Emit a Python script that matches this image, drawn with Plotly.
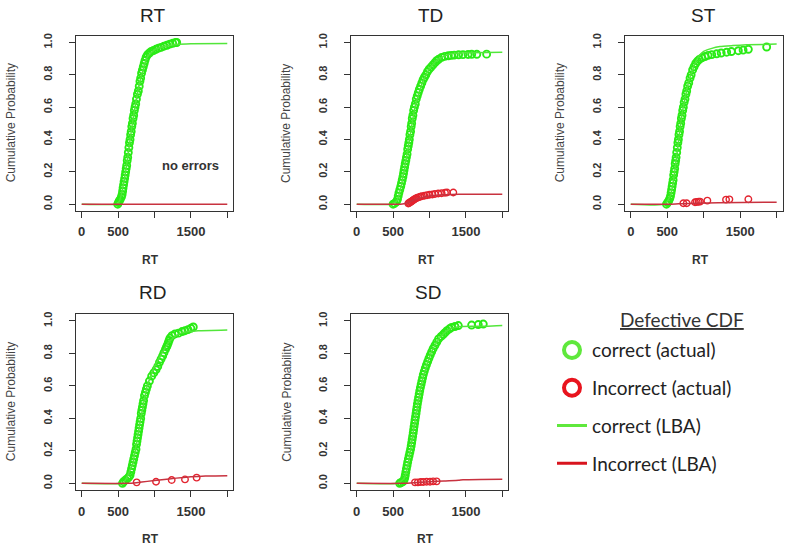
import plotly.graph_objects as go

W, H = 787, 547

panel_names = ["RT", "TD", "ST", "RD", "SD"]

# ---------------- data ----------------
# RT panel
rt_cor_x = [495, 505, 515, 530, 545, 555, 562, 568, 575, 582, 590, 597, 604, 611, 618, 625, 632, 640, 648, 656,
            664, 672, 680, 688, 696, 705, 714, 723, 732, 742, 752, 765, 778, 790, 800, 810, 822, 834, 846, 858,
            870, 885, 905, 930, 955, 985, 1020, 1055, 1090, 1130, 1170, 1210, 1250, 1290, 1305]
rt_cor_y = [0.0, 0.01, 0.02, 0.03, 0.045, 0.06, 0.08, 0.10, 0.12, 0.14, 0.16, 0.18, 0.20, 0.22, 0.24, 0.27, 0.29,
            0.32, 0.35, 0.38, 0.40, 0.43, 0.45, 0.48, 0.50, 0.53, 0.55, 0.58, 0.60, 0.62, 0.65, 0.68, 0.70, 0.73,
            0.76, 0.78, 0.81, 0.83, 0.85, 0.87, 0.89, 0.91, 0.925, 0.935, 0.945, 0.95, 0.958, 0.965, 0.97, 0.977,
            0.983, 0.99, 0.995, 1.0, 1.0]
rt_inc_x = []
rt_inc_y = []
rt_lba_cor_x = [0, 480, 520, 600, 700, 800, 900, 1000, 1100, 1200, 1300, 1500, 2000]
rt_lba_cor_y = [0, 0, 0.02, 0.19, 0.51, 0.76, 0.91, 0.955, 0.972, 0.982, 0.988, 0.992, 0.993]
rt_lba_inc_x = [0, 2000]
rt_lba_inc_y = [0, 0]

# TD panel
td_cor_x = [500, 520, 545, 560, 570, 580, 592, 605, 615, 625, 635, 643, 650, 658, 666, 675, 683, 692, 700, 708,
            716, 723, 731, 740, 748, 755, 763, 772, 782, 792, 805, 818, 832, 846, 860, 878, 895, 912, 930, 950,
            972, 995, 1021, 1048, 1075, 1098, 1125, 1167, 1210, 1259, 1300, 1340, 1400, 1460, 1530, 1580, 1650, 1785]
td_cor_y = [0.0, 0.005, 0.015, 0.03, 0.05, 0.07, 0.09, 0.11, 0.13, 0.15, 0.17, 0.19, 0.21, 0.23, 0.25, 0.27, 0.29,
            0.31, 0.34, 0.36, 0.38, 0.40, 0.43, 0.45, 0.48, 0.50, 0.53, 0.55, 0.58, 0.60, 0.62, 0.65, 0.67, 0.69,
            0.71, 0.73, 0.75, 0.77, 0.785, 0.80, 0.82, 0.835, 0.848, 0.862, 0.875, 0.887, 0.896, 0.908, 0.914,
            0.918, 0.92, 0.922, 0.924, 0.925, 0.926, 0.927, 0.927, 0.928]
td_inc_x = [709, 720, 735, 748, 760, 775, 790, 805, 824, 845, 870, 895, 930, 965, 1000, 1040, 1075, 1120, 1167,
            1213, 1240, 1327]
td_inc_y = [0.004, 0.008, 0.012, 0.016, 0.02, 0.025, 0.03, 0.034, 0.038, 0.042, 0.046, 0.049, 0.052, 0.055,
            0.058, 0.06, 0.063, 0.066, 0.068, 0.071, 0.072, 0.072]
td_lba_cor_x = [0, 480, 550, 600, 700, 800, 900, 1000, 1100, 1200, 1300, 1500, 2000]
td_lba_cor_y = [0, 0, 0.02, 0.09, 0.33, 0.60, 0.75, 0.84, 0.89, 0.915, 0.93, 0.937, 0.94]
td_lba_inc_x = [0, 600, 650, 700, 800, 900, 1000, 1100, 1200, 1400, 2000]
td_lba_inc_y = [0, 0, 0.003, 0.01, 0.028, 0.042, 0.051, 0.056, 0.059, 0.061, 0.062]

# ST panel
st_cor_x = [490, 505, 520, 535, 545, 553, 560, 567, 574, 581, 588, 595, 602, 609, 616, 622, 630, 638, 646, 653,
            661, 669, 677, 685, 694, 703, 712, 721, 732, 744, 756, 767, 780, 795, 813, 828, 848, 868, 890, 915,
            940, 975, 1018, 1060, 1110, 1178, 1240, 1315, 1380, 1475, 1540, 1612, 1863]
st_cor_y = [0.0, 0.01, 0.02, 0.035, 0.05, 0.07, 0.09, 0.11, 0.13, 0.15, 0.18, 0.20, 0.22, 0.25, 0.27, 0.29, 0.32,
            0.35, 0.38, 0.40, 0.43, 0.45, 0.48, 0.50, 0.53, 0.55, 0.58, 0.60, 0.63, 0.65, 0.68, 0.70, 0.73, 0.75,
            0.78, 0.80, 0.83, 0.85, 0.87, 0.885, 0.895, 0.905, 0.913, 0.92, 0.925, 0.93, 0.935, 0.94, 0.944,
            0.949, 0.953, 0.958, 0.972]
st_inc_x = [721, 767, 881, 904, 930, 950, 1050, 1306, 1352, 1612]
st_inc_y = [0.006, 0.006, 0.012, 0.014, 0.015, 0.016, 0.022, 0.028, 0.03, 0.031]
st_lba_cor_x = [0, 470, 550, 600, 700, 800, 900, 950, 1000, 1100, 1224, 1400, 1589, 2000]
st_lba_cor_y = [0, 0, 0.06, 0.19, 0.55, 0.77, 0.89, 0.925, 0.945, 0.962, 0.975, 0.981, 0.986, 0.99]
st_lba_inc_x = [0, 550, 700, 900, 1200, 2000]
st_lba_inc_y = [0, 0, 0.003, 0.006, 0.009, 0.012]

# RD panel
rd_cor_x = [560, 575, 600, 630, 650, 664, 675, 685, 695, 705, 715, 725, 735, 746, 753, 760, 767, 774, 781, 788,
            795, 802, 810, 818, 826, 834, 842, 850, 862, 875, 888, 902, 930, 961, 990, 1021, 1045, 1068, 1090,
            1112, 1130, 1150, 1165, 1176, 1188, 1200, 1213, 1240, 1282, 1330, 1380, 1419, 1460, 1500, 1533]
rd_cor_y = [0.0, 0.01, 0.02, 0.03, 0.04, 0.05, 0.07, 0.09, 0.11, 0.13, 0.15, 0.17, 0.19, 0.21, 0.24, 0.26, 0.28,
            0.30, 0.32, 0.34, 0.36, 0.38, 0.40, 0.43, 0.45, 0.47, 0.49, 0.51, 0.54, 0.56, 0.58, 0.60, 0.63, 0.66,
            0.68, 0.70, 0.72, 0.745, 0.765, 0.785, 0.805, 0.825, 0.84, 0.85, 0.865, 0.88, 0.895, 0.91, 0.92,
            0.925, 0.935, 0.94, 0.947, 0.955, 0.963]
rd_inc_x = [755, 1021, 1236, 1419, 1579]
rd_inc_y = [0.006, 0.01, 0.02, 0.024, 0.035]
rd_lba_cor_x = [0, 550, 600, 700, 800, 900, 1000, 1100, 1200, 1300, 1400, 1600, 2000]
rd_lba_cor_y = [0, 0, 0.02, 0.12, 0.37, 0.60, 0.72, 0.80, 0.87, 0.91, 0.93, 0.94, 0.945]
rd_lba_inc_x = [0, 650, 750, 900, 1100, 1300, 1500, 1700, 2000]
rd_lba_inc_y = [0, 0, 0.004, 0.012, 0.022, 0.032, 0.04, 0.045, 0.047]

# SD panel
sd_cor_x = [590, 610, 635, 650, 660, 667, 675, 683, 692, 700, 710, 720, 730, 740, 748, 755, 762, 769, 776, 782,
            788, 795, 801, 808, 815, 821, 828, 834, 842, 850, 858, 866, 875, 885, 895, 905, 915, 928, 942, 958,
            975, 992, 1010, 1030, 1050, 1075, 1100, 1125, 1160, 1190, 1213, 1240, 1275, 1304, 1350, 1396, 1579,
            1670, 1739]
sd_cor_y = [0.0, 0.005, 0.01, 0.02, 0.035, 0.05, 0.07, 0.09, 0.11, 0.13, 0.15, 0.17, 0.19, 0.21, 0.23, 0.25, 0.27,
            0.29, 0.31, 0.33, 0.35, 0.37, 0.39, 0.41, 0.43, 0.45, 0.47, 0.49, 0.51, 0.53, 0.55, 0.57, 0.59, 0.61,
            0.63, 0.65, 0.67, 0.69, 0.71, 0.73, 0.75, 0.77, 0.79, 0.81, 0.83, 0.85, 0.87, 0.89, 0.905, 0.918,
            0.928, 0.94, 0.952, 0.96, 0.966, 0.972, 0.975, 0.978, 0.981]
sd_inc_x = [801, 840, 880, 915, 960, 1007, 1050, 1098]
sd_inc_y = [0.006, 0.006, 0.008, 0.008, 0.01, 0.01, 0.012, 0.012]
sd_lba_cor_x = [0, 560, 650, 700, 800, 900, 1000, 1100, 1200, 1300, 1400, 1600, 1800, 2000]
sd_lba_cor_y = [0, 0, 0.03, 0.10, 0.38, 0.63, 0.78, 0.87, 0.925, 0.955, 0.965, 0.967, 0.968, 0.972]
sd_lba_inc_x = [0, 650, 800, 1000, 1200, 1400, 1460, 1700, 2000]
sd_lba_inc_y = [0, 0, 0.004, 0.01, 0.015, 0.019, 0.022, 0.024, 0.025]

x_tick_vals = [0, 500, 1000, 1500, 2000]
x_tick_text = ["0", "500", "", "1500", ""]
y_tick_vals = [0, 0.2, 0.4, 0.6, 0.8, 1.0]
y_tick_text = ["0.0", "0.2", "0.4", "0.6", "0.8", "1.0"]

legend_labels = ["correct (actual)", "Incorrect (actual)", "correct (LBA)", "Incorrect (LBA)"]
legend_title = "Defective CDF"
no_errors_text = "no errors"

panel_data = {
    "RT": (rt_cor_x, rt_cor_y, rt_inc_x, rt_inc_y, rt_lba_cor_x, rt_lba_cor_y, rt_lba_inc_x, rt_lba_inc_y),
    "TD": (td_cor_x, td_cor_y, td_inc_x, td_inc_y, td_lba_cor_x, td_lba_cor_y, td_lba_inc_x, td_lba_inc_y),
    "ST": (st_cor_x, st_cor_y, st_inc_x, st_inc_y, st_lba_cor_x, st_lba_cor_y, st_lba_inc_x, st_lba_inc_y),
    "RD": (rd_cor_x, rd_cor_y, rd_inc_x, rd_inc_y, rd_lba_cor_x, rd_lba_cor_y, rd_lba_inc_x, rd_lba_inc_y),
    "SD": (sd_cor_x, sd_cor_y, sd_inc_x, sd_inc_y, sd_lba_cor_x, sd_lba_cor_y, sd_lba_inc_x, sd_lba_inc_y),
}

# ---------------- styling / layout ----------------
GREEN_PT = "#2aeb16"
GREEN_LN = "#52e63a"
RED_PT = "#e3242f"
RED_LN = "#c8323f"
AXC = "#333333"
FONT = "Liberation Sans, Arial, sans-serif"
LFONT = "Lato, sans-serif"


def px(xp):
    return xp / W


def py(yp):
    return 1 - yp / H


# plot boxes in page pixels: (left, right, top, bottom)
boxes = {
    "RT": (75.9, 233.1, 33.2, 208.8),
    "TD": (350.9, 508.1, 33.2, 208.8),
    "ST": (624.9, 782.5, 33.2, 208.8),
    "RD": (75.9, 233.1, 313.2, 489.5),
    "SD": (350.9, 508.1, 313.2, 489.5),
}
title_pos = {"RT": (152, 13), "TD": (430, 13), "ST": (703, 13), "RD": (152.5, 291.5), "SD": (427.5, 291.5)}
xlab_pos = {"RT": (150, 258), "TD": (427, 258), "ST": (700, 258), "RD": (150, 539), "SD": (425, 539)}
ylab_pos = {"RT": 11, "TD": 286.7, "ST": 560, "RD": 11, "SD": 286.7}

fig = go.Figure()
annotations = []
layout = {}

for i, name in enumerate(panel_names):
    k = "" if i == 0 else str(i + 1)
    cx, cy, ix, iy, lcx, lcy, lix, liy = panel_data[name]
    xa, ya = "x" + k, "y" + k
    fig.add_trace(go.Scatter(x=cx, y=cy, xaxis=xa, yaxis=ya, mode="markers", showlegend=False,
                             marker=dict(symbol="circle-open", size=7, color=GREEN_PT,
                                         line=dict(width=1.9, color=GREEN_PT))))
    if ix:
        fig.add_trace(go.Scatter(x=ix, y=iy, xaxis=xa, yaxis=ya, mode="markers", showlegend=False,
                                 marker=dict(symbol="circle-open", size=6.5, color=RED_PT,
                                             line=dict(width=1.4, color=RED_PT))))
    fig.add_trace(go.Scatter(x=lcx, y=lcy, xaxis=xa, yaxis=ya, mode="lines", showlegend=False,
                             line=dict(color=GREEN_LN, width=1.5, shape="spline", smoothing=0.4)))
    fig.add_trace(go.Scatter(x=lix, y=liy, xaxis=xa, yaxis=ya, mode="lines", showlegend=False,
                             line=dict(color=RED_LN, width=1.5, shape="spline", smoothing=0.4)))

    l, r, t, b = boxes[name]
    layout["xaxis" + k] = dict(
        domain=[px(l), px(r)], range=[-80, 2080], anchor=ya,
        tickvals=x_tick_vals, ticktext=x_tick_text, ticks="outside", ticklen=6, tickwidth=1.2,
        tickcolor=AXC, showline=True, linecolor=AXC, linewidth=1.3, mirror=True, showgrid=False,
        zeroline=False, ticklabelstandoff=3,
        tickfont=dict(family=FONT, size=13, color=AXC, weight="bold"), fixedrange=True)
    layout["yaxis" + k] = dict(
        domain=[py(b), py(t)], range=[-0.04, 1.04], anchor=xa,
        tickvals=y_tick_vals, ticktext=y_tick_text, ticks="outside", ticklen=6, tickwidth=1.2,
        tickcolor=AXC, showline=True, linecolor=AXC, linewidth=1.3, mirror=True, showgrid=False,
        zeroline=False, tickangle=-90, ticklabelstandoff=12,
        tickfont=dict(family=FONT, size=11, color=AXC, weight="bold"), fixedrange=True)

    tx, ty = title_pos[name]
    annotations.append(dict(text=name, x=px(tx), y=py(ty), xref="paper", yref="paper",
                            showarrow=False, xanchor="center", yanchor="middle",
                            font=dict(family=FONT, size=19, color="#222222")))
    lx, ly = xlab_pos[name]
    annotations.append(dict(text="RT", x=px(lx), y=py(ly), xref="paper", yref="paper",
                            showarrow=False, xanchor="center", yanchor="middle",
                            font=dict(family=FONT, size=12, color=AXC, weight="bold")))
    annotations.append(dict(text="Cumulative Probability", x=px(ylab_pos[name]), y=py((t + b) / 2),
                            xref="paper", yref="paper", showarrow=False, textangle=-90,
                            xanchor="center", yanchor="middle",
                            font=dict(family=FONT, size=12, color="#444444")))

# "no errors" label inside RT panel
annotations.append(dict(text=no_errors_text, x=1492, y=0.242, xref="x", yref="y", showarrow=False,
                        xanchor="center", yanchor="middle",
                        font=dict(family=FONT, size=13, color="#333333", weight="bold")))

# legend title
annotations.append(dict(text="<u>" + legend_title + "</u>", x=px(682), y=py(318), xref="paper",
                        yref="paper", showarrow=False, xanchor="center", yanchor="middle",
                        font=dict(family=LFONT, size=19, color="#333333")))

# legend-only entries
fig.add_trace(go.Scatter(x=[None], y=[None], mode="markers", name=legend_labels[0], legendgroup="a",
                         marker=dict(symbol="circle-open", size=16, color="#5fe83c",
                                     line=dict(width=4, color="#5fe83c"))))
fig.add_trace(go.Scatter(x=[None], y=[None], mode="markers", name=legend_labels[1], legendgroup="b",
                         marker=dict(symbol="circle-open", size=16, color="#e8141e",
                                     line=dict(width=4, color="#e8141e"))))
fig.add_trace(go.Scatter(x=[None], y=[None], mode="lines", name=legend_labels[2], legendgroup="c",
                         line=dict(color="#5fe83c", width=3)))
fig.add_trace(go.Scatter(x=[None], y=[None], mode="lines", name=legend_labels[3], legendgroup="d",
                         line=dict(color="#d8141e", width=3)))

fig.update_layout(
    width=W, height=H, margin=dict(l=0, r=0, t=0, b=0),
    paper_bgcolor="white", plot_bgcolor="white",
    annotations=annotations,
    legend=dict(x=552 / W, y=py(330), xanchor="left", yanchor="top",
                font=dict(family=LFONT, size=19, color="#222222"),
                tracegroupgap=10, bgcolor="rgba(0,0,0,0)"),
    **layout,
)

# remove the browser's default 8px body margin so the figure fills the window exactly
fig.write_html("out.html", config={"displayModeBar": False},
               post_script="document.body.style.margin='0px';")
